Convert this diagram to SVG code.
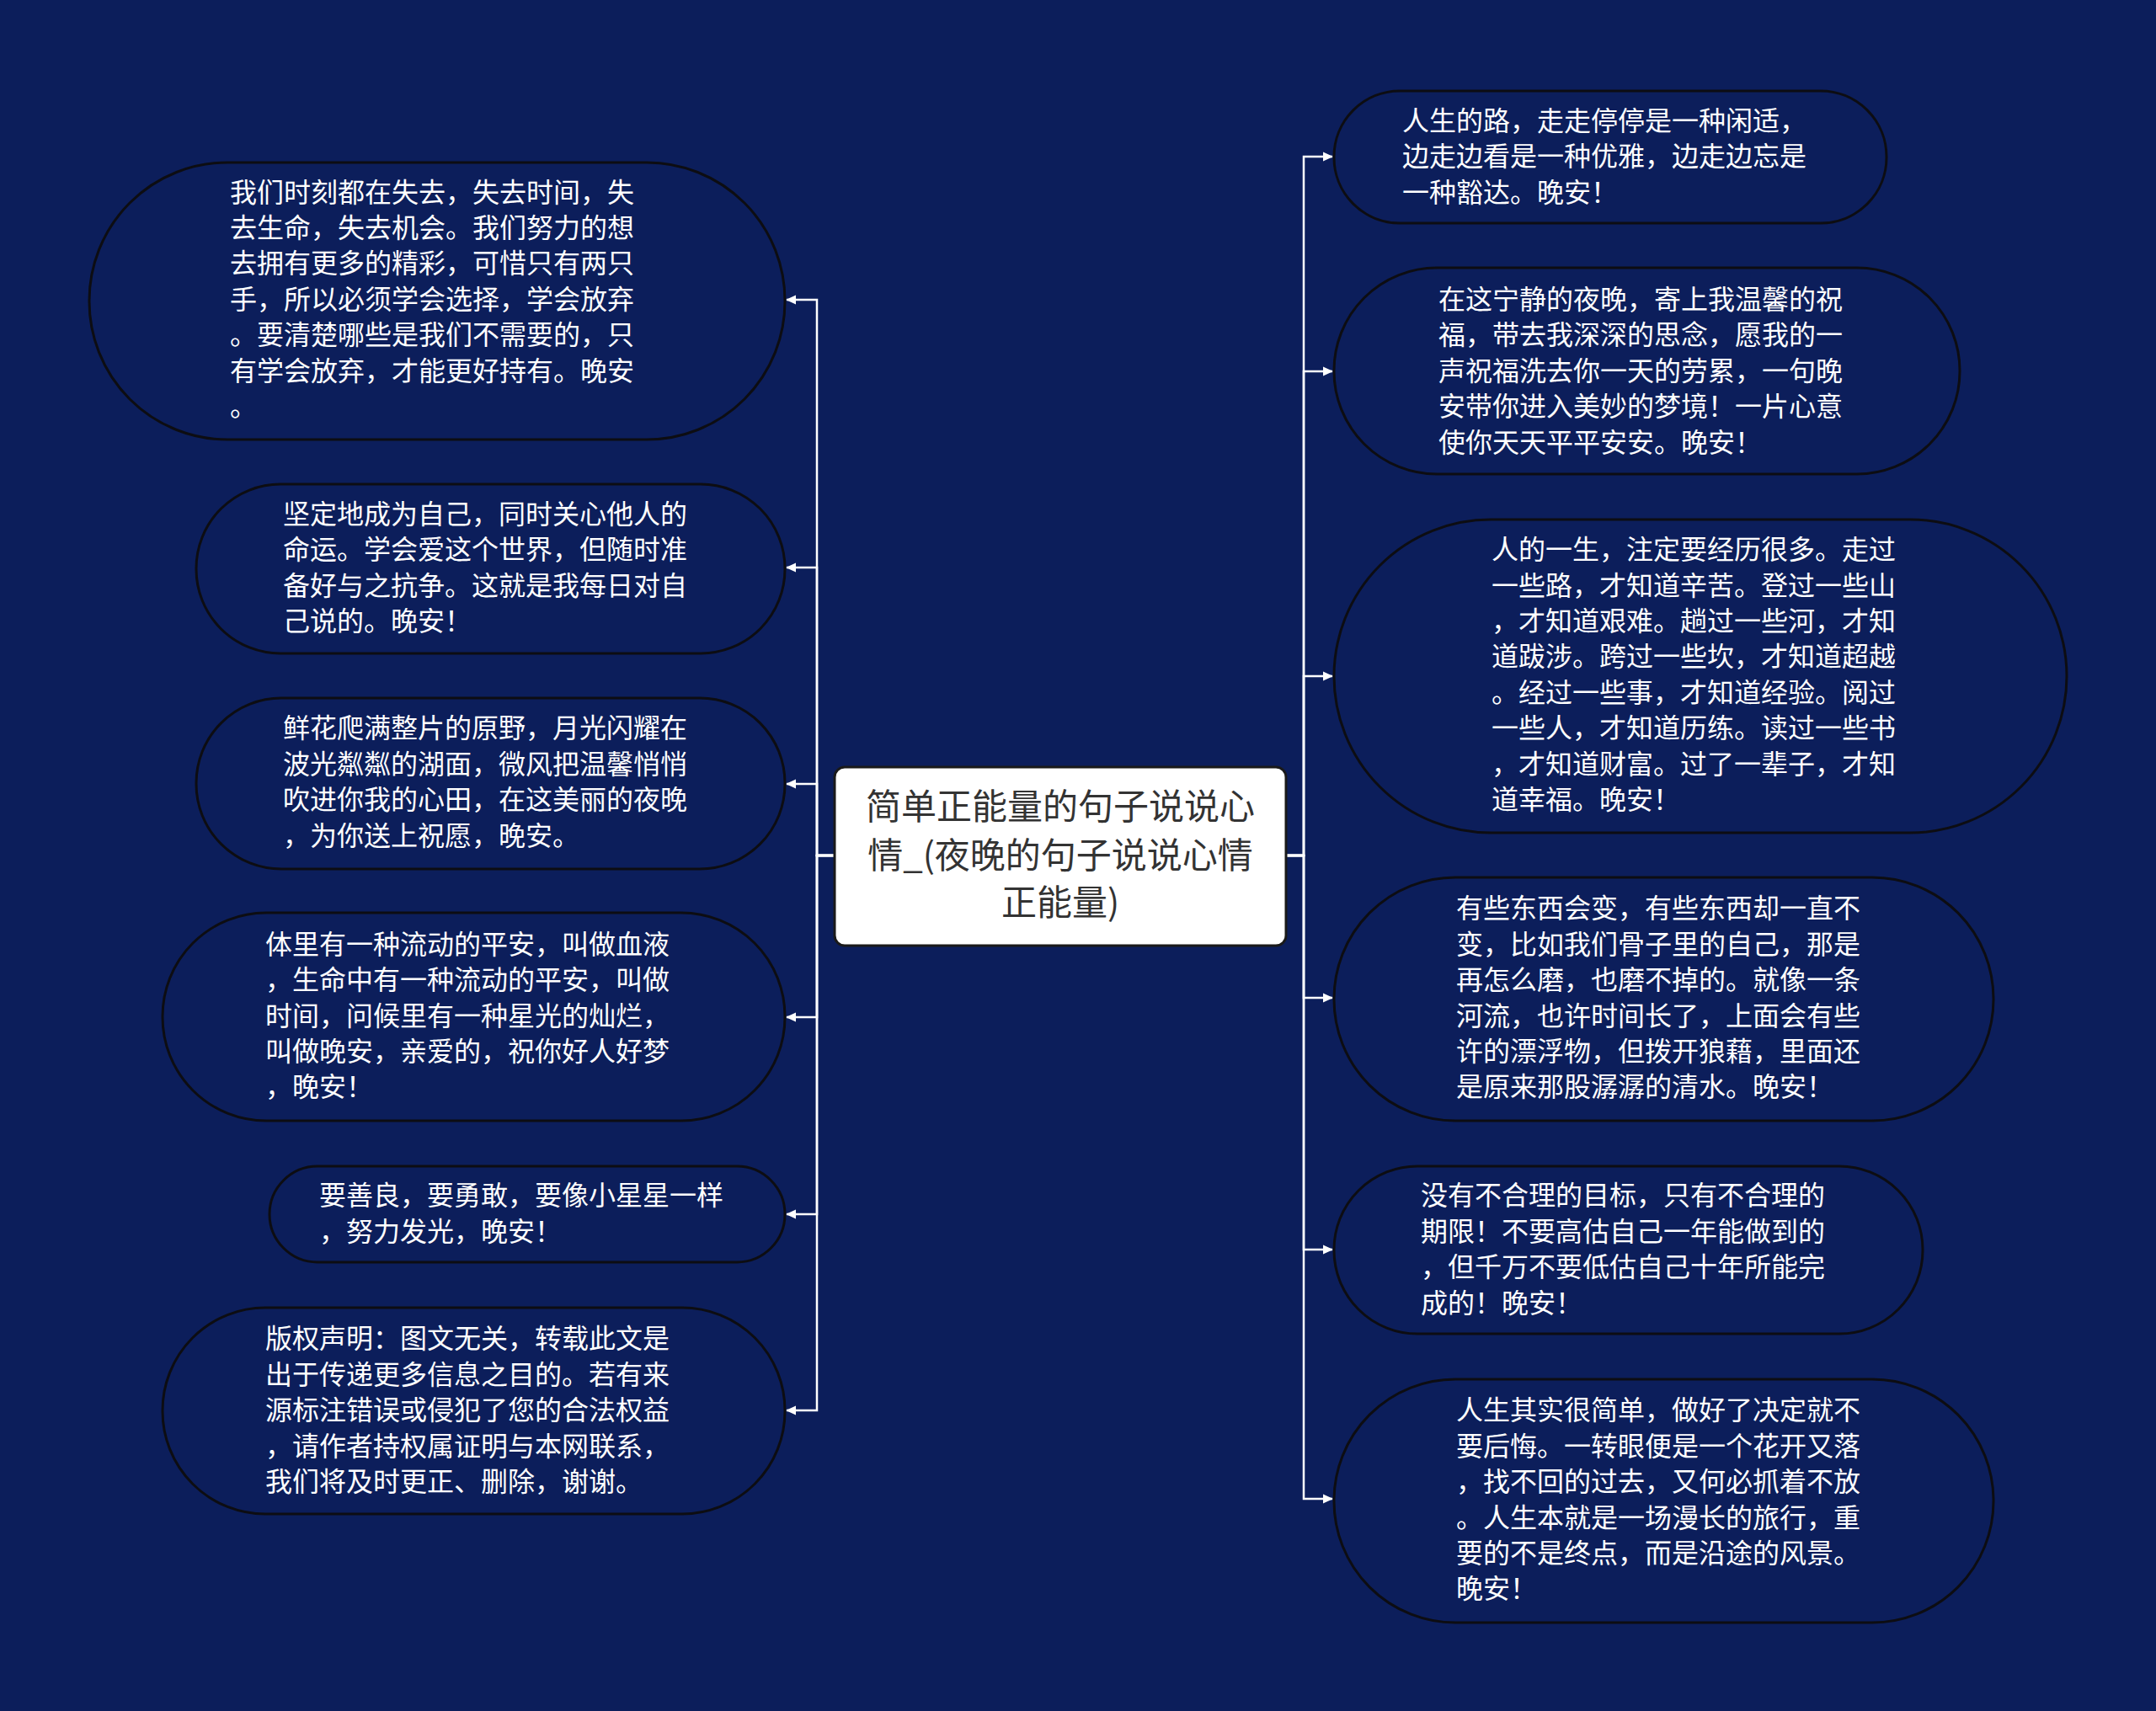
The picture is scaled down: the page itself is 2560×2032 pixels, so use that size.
<svg xmlns="http://www.w3.org/2000/svg" width="2560" height="2032" viewBox="0 0 2560 2032">
<style>
.bg{fill:#0c1e5b}
.node rect{fill:#0c1e5b;stroke:#0d0d12;stroke-width:3}
.node text{font-family:"Noto Sans CJK SC","Noto Sans",sans-serif;font-size:32px;fill:#ffffff}
.root rect{fill:#ffffff;stroke:#1a1a1a;stroke-width:3}
.root text{font-family:"Noto Sans CJK SC","Noto Sans",sans-serif;font-size:42px;fill:#333333;text-anchor:middle}
.edge{fill:none;stroke:#ffffff;stroke-width:2.5}
</style>
<defs>
<marker id="arr" markerUnits="userSpaceOnUse" markerWidth="14" markerHeight="14" viewBox="0 0 14 14" refX="12" refY="7" orient="auto">
<path d="M1,1.5 L13,7 L1,12.5 Z" fill="#ffffff"/>
</marker>
</defs>
<rect class="bg" x="0" y="0" width="2560" height="2032"/>
<g id="connectors">
<path class="edge" marker-end="url(#arr)" d="M991,1016 H970 V356 H934"/>
<path class="edge" marker-end="url(#arr)" d="M991,1016 H970 V674 H934"/>
<path class="edge" marker-end="url(#arr)" d="M991,1016 H970 V931 H934"/>
<path class="edge" marker-end="url(#arr)" d="M991,1016 H970 V1208 H934"/>
<path class="edge" marker-end="url(#arr)" d="M991,1016 H970 V1442 H934"/>
<path class="edge" marker-end="url(#arr)" d="M991,1016 H970 V1675 H934"/>
<path class="edge" marker-end="url(#arr)" d="M1527,1016 H1548 V186 H1582"/>
<path class="edge" marker-end="url(#arr)" d="M1527,1016 H1548 V441 H1582"/>
<path class="edge" marker-end="url(#arr)" d="M1527,1016 H1548 V803 H1582"/>
<path class="edge" marker-end="url(#arr)" d="M1527,1016 H1548 V1185 H1582"/>
<path class="edge" marker-end="url(#arr)" d="M1527,1016 H1548 V1484 H1582"/>
<path class="edge" marker-end="url(#arr)" d="M1527,1016 H1548 V1780 H1582"/>
</g>
<g id="root" class="root">
<rect x="991" y="911" width="536" height="212" rx="12"/>
<text x="1259" y="973">简单正能量的句子说说心</text>
<text x="1259" y="1031">情_(夜晚的句子说说心情</text>
<text x="1259" y="1087">正能量)</text>
</g>
<g id="L1" class="node">
<rect x="106" y="193" width="826" height="329" rx="164"/>
<text x="273" y="240">我们时刻都在失去，失去时间，失</text>
<text x="273" y="282">去生命，失去机会。我们努力的想</text>
<text x="273" y="324">去拥有更多的精彩，可惜只有两只</text>
<text x="273" y="367">手，所以必须学会选择，学会放弃</text>
<text x="273" y="409">。要清楚哪些是我们不需要的，只</text>
<text x="273" y="452">有学会放弃，才能更好持有。晚安</text>
<text x="273" y="494">。</text>
</g>
<g id="L2" class="node">
<rect x="233" y="575" width="699" height="201" rx="100"/>
<text x="336" y="622">坚定地成为自己，同时关心他人的</text>
<text x="336" y="664">命运。学会爱这个世界，但随时准</text>
<text x="336" y="707">备好与之抗争。这就是我每日对自</text>
<text x="336" y="749">己说的。晚安！</text>
</g>
<g id="L3" class="node">
<rect x="233" y="829" width="699" height="203" rx="101"/>
<text x="336" y="876">鲜花爬满整片的原野，月光闪耀在</text>
<text x="336" y="919">波光粼粼的湖面，微风把温馨悄悄</text>
<text x="336" y="961">吹进你我的心田，在这美丽的夜晚</text>
<text x="336" y="1004">，为你送上祝愿，晚安。</text>
</g>
<g id="L4" class="node">
<rect x="193" y="1084" width="739" height="247" rx="123"/>
<text x="315" y="1133">体里有一种流动的平安，叫做血液</text>
<text x="315" y="1175">，生命中有一种流动的平安，叫做</text>
<text x="315" y="1218">时间，问候里有一种星光的灿烂，</text>
<text x="315" y="1260">叫做晚安，亲爱的，祝你好人好梦</text>
<text x="315" y="1302">，晚安！</text>
</g>
<g id="L5" class="node">
<rect x="320" y="1385" width="612" height="114" rx="57"/>
<text x="379" y="1431">要善良，要勇敢，要像小星星一样</text>
<text x="379" y="1474">，努力发光，晚安！</text>
</g>
<g id="L6" class="node">
<rect x="193" y="1553" width="739" height="245" rx="122"/>
<text x="315" y="1601">版权声明：图文无关，转载此文是</text>
<text x="315" y="1644">出于传递更多信息之目的。若有来</text>
<text x="315" y="1686">源标注错误或侵犯了您的合法权益</text>
<text x="315" y="1729">，请作者持权属证明与本网联系，</text>
<text x="315" y="1771">我们将及时更正、删除，谢谢。</text>
</g>
<g id="R1" class="node">
<rect x="1584" y="108" width="656" height="157" rx="78"/>
<text x="1665" y="155">人生的路，走走停停是一种闲适，</text>
<text x="1665" y="197">边走边看是一种优雅，边走边忘是</text>
<text x="1665" y="240">一种豁达。晚安！</text>
</g>
<g id="R2" class="node">
<rect x="1584" y="318" width="743" height="245" rx="122"/>
<text x="1708" y="367">在这宁静的夜晚，寄上我温馨的祝</text>
<text x="1708" y="409">福，带去我深深的思念，愿我的一</text>
<text x="1708" y="452">声祝福洗去你一天的劳累，一句晚</text>
<text x="1708" y="494">安带你进入美妙的梦境！一片心意</text>
<text x="1708" y="537">使你天天平平安安。晚安！</text>
</g>
<g id="R3" class="node">
<rect x="1584" y="617" width="870" height="372" rx="186"/>
<text x="1771" y="664">人的一生，注定要经历很多。走过</text>
<text x="1771" y="707">一些路，才知道辛苦。登过一些山</text>
<text x="1771" y="749">，才知道艰难。趟过一些河，才知</text>
<text x="1771" y="791">道跋涉。跨过一些坎，才知道超越</text>
<text x="1771" y="834">。经过一些事，才知道经验。阅过</text>
<text x="1771" y="876">一些人，才知道历练。读过一些书</text>
<text x="1771" y="919">，才知道财富。过了一辈子，才知</text>
<text x="1771" y="961">道幸福。晚安！</text>
</g>
<g id="R4" class="node">
<rect x="1584" y="1042" width="783" height="289" rx="144"/>
<text x="1729" y="1090">有些东西会变，有些东西却一直不</text>
<text x="1729" y="1133">变，比如我们骨子里的自己，那是</text>
<text x="1729" y="1175">再怎么磨，也磨不掉的。就像一条</text>
<text x="1729" y="1218">河流，也许时间长了，上面会有些</text>
<text x="1729" y="1260">许的漂浮物，但拨开狼藉，里面还</text>
<text x="1729" y="1302">是原来那股潺潺的清水。晚安！</text>
</g>
<g id="R5" class="node">
<rect x="1584" y="1385" width="699" height="199" rx="99"/>
<text x="1687" y="1431">没有不合理的目标，只有不合理的</text>
<text x="1687" y="1474">期限！不要高估自己一年能做到的</text>
<text x="1687" y="1516">，但千万不要低估自己十年所能完</text>
<text x="1687" y="1559">成的！晚安！</text>
</g>
<g id="R6" class="node">
<rect x="1584" y="1638" width="783" height="289" rx="144"/>
<text x="1729" y="1686">人生其实很简单，做好了决定就不</text>
<text x="1729" y="1729">要后悔。一转眼便是一个花开又落</text>
<text x="1729" y="1771">，找不回的过去，又何必抓着不放</text>
<text x="1729" y="1814">。人生本就是一场漫长的旅行，重</text>
<text x="1729" y="1856">要的不是终点，而是沿途的风景。</text>
<text x="1729" y="1898">晚安！</text>
</g>
</svg>
